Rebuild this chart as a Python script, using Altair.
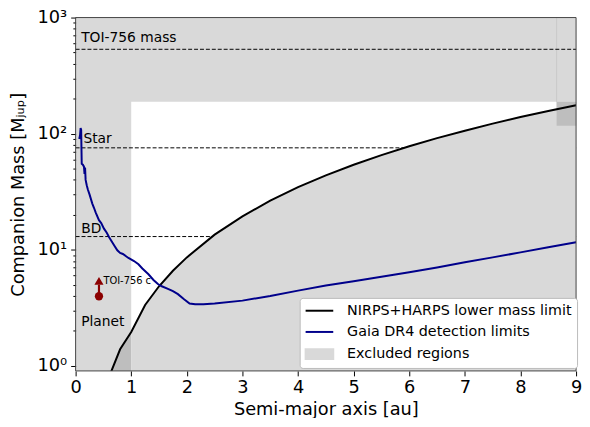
import altair as alt
import pandas as pd

FONT = "DejaVu Sans"
X_MIN, X_MAX = 0.0, 9.0
Y_MIN, Y_MAX = 0.905, 1000.0

# NIRPS+HARPS lower mass limit
rv_a = [0.60, 0.65, 0.8, 1.0, 1.25, 1.5, 1.75, 2.0, 2.5, 3.0, 3.5, 4.0, 4.5,
        5.0, 5.5, 6.0, 6.5, 7.0, 7.5, 8.0, 8.5, 9.0]
rv_m = [0.78, 0.92, 1.39, 1.96, 3.35, 4.85, 6.6, 8.6, 13.5, 19.4, 26.5, 34.6,
        43.8, 54.0, 65.4, 78.0, 91.5, 106.0, 122.0, 139.0, 157.0, 176.0]

# Gaia DR4 detection limits
gaia_a = [0.065, 0.08, 0.09, 0.10, 0.105, 0.11, 0.13, 0.15, 0.16, 0.17, 0.18,
          0.20, 0.22, 0.25, 0.30, 0.33, 0.36, 0.42, 0.46, 0.51, 0.56, 0.60,
          0.65, 0.70, 0.75, 0.80, 0.85, 0.95, 1.05, 1.13, 1.20, 1.31, 1.40,
          1.48, 1.55, 1.66, 1.75, 1.84, 1.95, 2.05, 2.15, 2.30, 2.50, 3.0,
          3.5, 4.0, 4.5, 5.0, 5.5, 6.0, 6.5, 7.0, 7.5, 8.0, 8.5, 9.0]
gaia_m = [90, 97, 112, 108, 75, 55, 54, 52, 45, 51, 40,
          36, 33, 30, 25, 23, 21, 18, 17, 15.2, 14, 12.9,
          11.8, 10.8, 9.9, 9.4, 9.2, 8.5, 8.0, 7.5, 6.9, 6.15, 5.5,
          5.07, 4.85, 4.6, 4.4, 4.15, 3.75, 3.45, 3.39, 3.40, 3.45, 3.65,
          4.0, 4.45, 4.92, 5.35, 5.85, 6.4, 7.05, 7.8, 8.6, 9.5, 10.5, 11.6]

# Mass boundaries (dashed lines) and their labels
limit_m = [13.0, 75.5, 533.0]
label_text = ["TOI-756 mass", "Star", "BD", "Planet"]
label_a = [0.10, 0.14, 0.10, 0.10]
label_m = [666.0, 89.0, 15.2, 2.4]

# Allowed (white) window and excluded-region edges
allowed_a = [1.0, 8.65]
allowed_m_top = 188.0
strip_m = [117.0, 188.0]

# TOI-756 c lower-limit point
planet_a = 0.42
planet_m = 3.98
planet_arrow_m = 5.0
planet_head_m = 5.4
planet_label = "TOI-756 c"
planet_label_a = 0.50
planet_label_m = 5.33

legend_labels = ["NIRPS+HARPS lower mass limit", "Gaia DR4 detection limits",
                 "Excluded regions"]
legend_colors = ["#000000", "#00008b", "#d9d9d9"]
legend_shapes = ["M-2,0H2", "M-2,0H2", "M-2,-0.7H2V0.7H-2Z"]

GRAY = "#d9d9d9"
DARK = "#bebebe"

y_ticks = []
for dec in [1, 10, 100]:
    for k in range(1, 10):
        v = k * dec
        if v >= Y_MIN:
            y_ticks.append(v)
y_ticks.append(1000)

xs = alt.Scale(domain=[X_MIN, X_MAX], nice=False, zero=False)
ys = alt.Scale(type="log", domain=[Y_MIN, Y_MAX], nice=False)

x_axis = alt.Axis(
    values=list(range(10)), title="Semi-major axis [au]", grid=False,
    domain=False, tickColor="#000", tickSize=5, tickWidth=1,
    labelFont=FONT, labelFontSize=18, labelColor="#000", labelPadding=3,
    labelFlush=False, labelOverlap=False,
    titleFont=FONT, titleFontSize=18, titleFontWeight="normal",
    titleColor="#000", titlePadding=4,
)
major_test = "datum.value == 1 || datum.value == 10 || datum.value == 100 || datum.value == 1000"
y_axis = alt.Axis(
    values=y_ticks, title="Companion Mass [Mⱼᵤₚ]", grid=False, domain=False,
    tickColor="#000", tickWidth=1,
    tickSize={"condition": {"test": major_test, "value": 5}, "value": 2.8},
    labelExpr="datum.value == 1 ? '10⁰' : datum.value == 10 ? '10¹' : "
              "datum.value == 100 ? '10²' : datum.value == 1000 ? '10³' : ''",
    labelFont=FONT, labelFontSize=18, labelColor="#000", labelPadding=4,
    labelOverlap=False, labelFlush=False,
    titleFont=FONT, titleFontSize=18, titleFontWeight="normal",
    titleColor="#000", titlePadding=10,
)


def X(f):
    return alt.X(f, type="quantitative", scale=xs, axis=x_axis)


def Y(f):
    return alt.Y(f, type="quantitative", scale=ys, axis=y_axis)


rv_df = pd.DataFrame({"a": rv_a, "m": rv_m, "base": Y_MIN})
gaia_df = pd.DataFrame({"a": gaia_a, "m": gaia_m})

white_df = pd.DataFrame({"a": [allowed_a[0]], "a2": [allowed_a[1]],
                         "m": [Y_MIN], "m2": [allowed_m_top]})
strip_df = pd.DataFrame({"a": [allowed_a[1]], "a2": [X_MAX],
                         "m": [strip_m[0]], "m2": [strip_m[1]]})
edge_df = pd.DataFrame({"a": [allowed_a[1]], "m": [allowed_m_top], "m2": [Y_MAX]})
lim_df = pd.DataFrame({"a": [X_MIN] * 3, "a2": [X_MAX] * 3, "m": limit_m})
lab_df = pd.DataFrame({"a": label_a, "m": label_m, "t": label_text})
frame_df = pd.DataFrame({"a": [X_MIN], "a2": [X_MAX], "m": [Y_MIN], "m2": [Y_MAX]})
pl_df = pd.DataFrame({"a": [planet_a], "m": [planet_m], "m2": [planet_arrow_m],
                      "mh": [planet_head_m]})
pl_lab = pd.DataFrame({"a": [planet_label_a], "m": [planet_label_m], "t": [planet_label]})
# legend-only points, placed outside the x domain so they are clipped away
leg_df = pd.DataFrame({"label": legend_labels, "a": [-5.0] * 3, "m": [10.0] * 3})

white = alt.Chart(white_df).mark_rect(color="white").encode(
    x=X("a"), x2="a2", y=Y("m"), y2="m2")
edge = alt.Chart(edge_df).mark_rule(color="#c9c9c9", strokeWidth=1).encode(
    x=X("a"), y=Y("m"), y2="m2")
dashed = alt.Chart(lim_df).mark_rule(color="#000", strokeWidth=1,
                                     strokeDash=[4, 2]).encode(
    x=X("a"), x2="a2", y=Y("m"))
area_dark = alt.Chart(rv_df).transform_filter("datum.a <= 1.0").mark_area(
    color=DARK, clip=True).encode(x=X("a"), y=Y("m"), y2="base")
area_light = alt.Chart(rv_df).transform_filter("datum.a >= 1.0").mark_area(
    color=GRAY, clip=True).encode(x=X("a"), y=Y("m"), y2="base")
strip = alt.Chart(strip_df).mark_rect(color=DARK).encode(
    x=X("a"), x2="a2", y=Y("m"), y2="m2")
rv_line = alt.Chart(rv_df).mark_line(color="#000", strokeWidth=2, clip=True).encode(
    x=X("a"), y=Y("m"))
gaia_line = alt.Chart(gaia_df).mark_line(color="#00008b", strokeWidth=2,
                                         clip=True).encode(x=X("a"), y=Y("m"))
labels = alt.Chart(lab_df).mark_text(font=FONT, fontSize=14, color="#000",
                                     align="left", baseline="middle").encode(
    x=X("a"), y=Y("m"), text="t:N")
arrow = alt.Chart(pl_df).mark_rule(color="#8b0000", strokeWidth=2.2).encode(
    x=X("a"), y=Y("m"), y2="m2")
head = alt.Chart(pl_df).mark_point(shape="triangle-up", filled=True, opacity=1,
                                   color="#8b0000", size=85).encode(
    x=X("a"), y=Y("mh"))
dot = alt.Chart(pl_df).mark_point(shape="circle", filled=True, opacity=1,
                                  color="#8b0000", size=70).encode(
    x=X("a"), y=Y("m"))
pl_text = alt.Chart(pl_lab).mark_text(font=FONT, fontSize=10, color="#000",
                                      align="left", baseline="middle").encode(
    x=X("a"), y=Y("m"), text="t:N")
frame = alt.Chart(frame_df).mark_rect(fill=None, stroke="#444", strokeWidth=1).encode(
    x=X("a"), x2="a2", y=Y("m"), y2="m2")

leg = alt.Legend(
    title=None, orient="none", legendX=227, legendY=284,
    labelFont=FONT, labelFontSize=14.5, labelColor="#000", labelLimit=0,
    symbolSize=196, symbolOffset=7, labelOffset=20, rowPadding=6.5,
    padding=5, fillColor="white", strokeColor="#bbbbbb", cornerRadius=3,
    symbolStrokeWidth=2, symbolOpacity=1,
)
legend_layer = alt.Chart(leg_df).mark_point(filled=True, opacity=1, clip=True,
                                            strokeWidth=2).encode(
    x=X("a"), y=Y("m"),
    fill=alt.Fill("label:N", scale=alt.Scale(domain=legend_labels, range=legend_colors),
                  legend=leg),
    stroke=alt.Stroke("label:N", scale=alt.Scale(domain=legend_labels, range=legend_colors),
                      legend=leg),
    shape=alt.Shape("label:N", scale=alt.Scale(domain=legend_labels, range=legend_shapes),
                    legend=leg),
)

chart = alt.layer(
    white, edge, dashed, area_dark, area_light, strip, rv_line, gaia_line,
    labels, arrow, head, dot, pl_text, frame, legend_layer,
).properties(
    width=507, height=358,
    padding={"left": 68.5, "top": 7, "right": 6, "bottom": 45},
    autosize=alt.AutoSizeParams(type="none"),
).configure_view(fill=GRAY, stroke=None)

chart.save("out.html", embed_options={"renderer": "svg", "actions": False})
